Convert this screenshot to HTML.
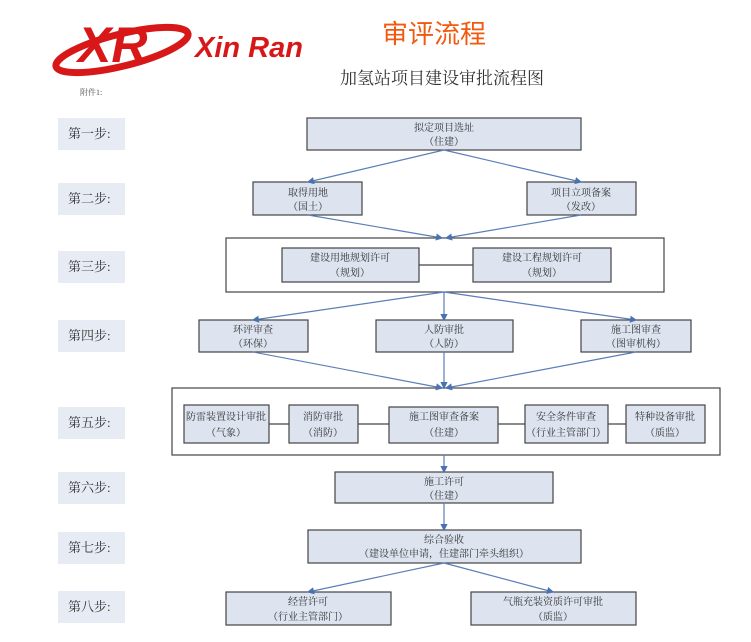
<!DOCTYPE html>
<html><head><meta charset="utf-8"><style>
html,body{margin:0;padding:0;background:#fff;width:751px;height:642px;overflow:hidden}
svg text{font-family:"Liberation Serif","Noto Serif CJK SC",serif}
</style></head><body>
<svg width="751" height="642" viewBox="0 0 751 642" xmlns="http://www.w3.org/2000/svg">
<defs><marker id="a" markerWidth="6" markerHeight="6" refX="5" refY="3" orient="auto"><path d="M0,0 L6,3 L0,6 z" fill="#4a72b0"/></marker></defs>
<ellipse cx="122" cy="50" rx="68" ry="16" fill="none" stroke="#d81818" stroke-width="7" transform="rotate(-14 122 50)"/>
<text x="78" y="62" font-weight="bold" font-style="italic" font-size="50" fill="#d81818" style="font-family:'Liberation Sans',sans-serif">XR</text>
<text x="195" y="57" font-weight="bold" font-style="italic" font-size="29" fill="#d81818" style="font-family:'Liberation Sans',sans-serif">Xin Ran</text>
<text x="382" y="43" font-size="26" fill="#f05a10" style="font-family:'Liberation Sans','Noto Sans CJK SC',sans-serif">审评流程</text>
<text x="340" y="84" font-size="17" fill="#333">加氢站项目建设审批流程图</text>
<text x="80" y="95" font-size="8" fill="#555">附件1:</text>
<g fill="#e6ebf4">
<rect x="58" y="118" width="67" height="32"/><rect x="58" y="183" width="67" height="32"/><rect x="58" y="251" width="67" height="32"/><rect x="58" y="320" width="67" height="32"/><rect x="58" y="407" width="67" height="32"/><rect x="58" y="472" width="67" height="32"/><rect x="58" y="532" width="67" height="32"/><rect x="58" y="591" width="67" height="32"/>
</g>
<g font-size="13" fill="#333">
<text x="68" y="138">第一步:</text><text x="68" y="203">第二步:</text><text x="68" y="271">第三步:</text><text x="68" y="340">第四步:</text><text x="68" y="427">第五步:</text><text x="68" y="492">第六步:</text><text x="68" y="552">第七步:</text><text x="68" y="611">第八步:</text>
</g>
<g fill="none" stroke="#444" stroke-width="1.2">
<rect x="226" y="238" width="438" height="54"/><rect x="172" y="388" width="548" height="67"/>
<line x1="419" y1="265" x2="473" y2="265"/>
<line x1="269" y1="424" x2="289" y2="424"/><line x1="358" y1="424" x2="389" y2="424"/><line x1="498" y1="424" x2="525" y2="424"/><line x1="608" y1="424" x2="626" y2="424"/>
</g>
<g fill="#dde4f0" stroke="#444" stroke-width="1.2">
<rect x="307" y="118" width="274" height="32"/>
<rect x="253" y="182" width="109" height="33"/><rect x="527" y="182" width="109" height="33"/>
<rect x="282" y="248" width="137" height="34"/><rect x="473" y="248" width="138" height="34"/>
<rect x="199" y="320" width="109" height="32"/><rect x="376" y="320" width="137" height="32"/><rect x="581" y="320" width="110" height="32"/>
<rect x="184" y="405" width="85" height="38"/><rect x="289" y="405" width="69" height="38"/><rect x="389" y="407" width="109" height="36"/><rect x="525" y="405" width="83" height="38"/><rect x="626" y="405" width="79" height="38"/>
<rect x="335" y="472" width="218" height="31"/>
<rect x="308" y="530" width="273" height="33"/>
<rect x="226" y="592" width="165" height="33"/><rect x="471" y="592" width="165" height="33"/>
</g>
<g stroke="#5a7fb8" stroke-width="1.2" marker-end="url(#a)">
<line x1="444" y1="150" x2="308" y2="182"/><line x1="444" y1="150" x2="581" y2="182"/>
<line x1="308" y1="215" x2="442" y2="238"/><line x1="581" y1="215" x2="446" y2="238"/>
<line x1="444" y1="292" x2="253" y2="320"/><line x1="444" y1="292" x2="444" y2="320"/><line x1="444" y1="292" x2="636" y2="320"/>
<line x1="253" y1="352" x2="442" y2="388"/><line x1="444" y1="352" x2="444" y2="388"/><line x1="636" y1="352" x2="446" y2="388"/>
<line x1="444" y1="455" x2="444" y2="472"/><line x1="444" y1="503" x2="444" y2="530"/>
<line x1="444" y1="563" x2="308" y2="592"/><line x1="444" y1="563" x2="553" y2="592"/>
</g>
<g font-size="10" fill="#333" text-anchor="middle">
<text x="444" y="131">拟定项目选址</text><text x="444" y="145">（住建）</text>
<text x="308" y="196">取得用地</text><text x="308" y="210">（国土）</text>
<text x="581" y="196">项目立项备案</text><text x="581" y="210">（发改）</text>
<text x="350" y="261">建设用地规划许可</text><text x="350" y="276">（规划）</text>
<text x="542" y="261">建设工程规划许可</text><text x="542" y="276">（规划）</text>
<text x="253" y="333">环评审查</text><text x="253" y="347">（环保）</text>
<text x="444" y="333">人防审批</text><text x="444" y="347">（人防）</text>
<text x="636" y="333">施工图审查</text><text x="636" y="347">（图审机构）</text>
<text x="226" y="420">防雷装置设计审批</text><text x="226" y="436">（气象）</text>
<text x="323" y="420">消防审批</text><text x="323" y="436">（消防）</text>
<text x="444" y="420">施工图审查备案</text><text x="444" y="436">（住建）</text>
<text x="566" y="420">安全条件审查</text><text x="566" y="436">（行业主管部门）</text>
<text x="665" y="420">特种设备审批</text><text x="665" y="436">（质监）</text>
<text x="444" y="485">施工许可</text><text x="444" y="499">（住建）</text>
<text x="444" y="543">综合验收</text><text x="444" y="557">（建设单位申请，住建部门牵头组织）</text>
<text x="308" y="605">经营许可</text><text x="308" y="620">（行业主管部门）</text>
<text x="553" y="605">气瓶充装资质许可审批</text><text x="553" y="620">（质监）</text>
</g>
</svg>
</body></html>
